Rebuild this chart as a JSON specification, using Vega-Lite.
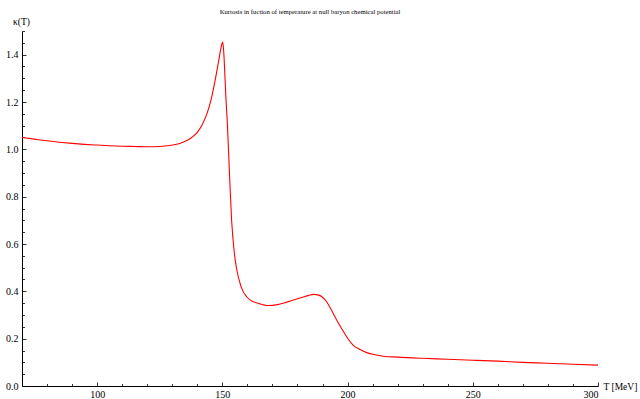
{
  "$schema": "https://vega.github.io/schema/vega-lite/v6.json",
  "autosize": "none",
  "width": 576,
  "height": 355,
  "padding": {"left": 22, "top": 31, "right": 42, "bottom": 13},
  "background": "white",
  "config": {
    "view": {"stroke": null},
    "font": "Liberation Serif"
  },
  "title": {
    "text": "Kurtosis in fuction of temperature at null baryon chemical potential",
    "font": "Liberation Serif",
    "fontSize": 6.7,
    "fontWeight": "normal",
    "color": "black",
    "anchor": "middle",
    "frame": "group",
    "baseline": "bottom",
    "offset": -6
  },
  "data": {
    "values": [
      {"T": 70, "k": 1.050},
      {"T": 75, "k": 1.043},
      {"T": 80, "k": 1.036},
      {"T": 85, "k": 1.030},
      {"T": 90, "k": 1.025},
      {"T": 95, "k": 1.021},
      {"T": 100, "k": 1.018},
      {"T": 105, "k": 1.015},
      {"T": 110, "k": 1.013},
      {"T": 115, "k": 1.012},
      {"T": 120, "k": 1.011},
      {"T": 125, "k": 1.012},
      {"T": 129, "k": 1.016},
      {"T": 133, "k": 1.025},
      {"T": 136, "k": 1.038},
      {"T": 138, "k": 1.052},
      {"T": 140, "k": 1.072},
      {"T": 142, "k": 1.105},
      {"T": 144, "k": 1.155},
      {"T": 145.5, "k": 1.210},
      {"T": 147, "k": 1.285},
      {"T": 148.3, "k": 1.360},
      {"T": 149.3, "k": 1.420},
      {"T": 150.1, "k": 1.453},
      {"T": 150.5, "k": 1.420},
      {"T": 150.8, "k": 1.364},
      {"T": 151.4, "k": 1.222},
      {"T": 152.0, "k": 1.110},
      {"T": 152.8, "k": 0.910},
      {"T": 153.7, "k": 0.700},
      {"T": 154.8, "k": 0.561},
      {"T": 155.8, "k": 0.489},
      {"T": 157.5, "k": 0.419},
      {"T": 159.8, "k": 0.376},
      {"T": 162, "k": 0.358},
      {"T": 164.4, "k": 0.349},
      {"T": 168.4, "k": 0.340},
      {"T": 172, "k": 0.344},
      {"T": 175, "k": 0.352},
      {"T": 178.4, "k": 0.363},
      {"T": 182, "k": 0.375},
      {"T": 184.5, "k": 0.383},
      {"T": 186.4, "k": 0.387},
      {"T": 188.5, "k": 0.384},
      {"T": 190, "k": 0.375},
      {"T": 191.7, "k": 0.355},
      {"T": 193.5, "k": 0.322},
      {"T": 195.7, "k": 0.278},
      {"T": 197.5, "k": 0.245},
      {"T": 199.7, "k": 0.207},
      {"T": 202.3, "k": 0.172},
      {"T": 205, "k": 0.154},
      {"T": 207.7, "k": 0.141},
      {"T": 211, "k": 0.132},
      {"T": 214.3, "k": 0.126},
      {"T": 220, "k": 0.122},
      {"T": 230, "k": 0.117},
      {"T": 240, "k": 0.113},
      {"T": 250, "k": 0.109},
      {"T": 260, "k": 0.105},
      {"T": 270, "k": 0.100},
      {"T": 280, "k": 0.096},
      {"T": 290, "k": 0.092},
      {"T": 300, "k": 0.088}
    ]
  },
  "mark": {"type": "line", "color": "#ff0000", "strokeWidth": 1.1, "interpolate": "monotone"},
  "encoding": {
    "x": {
      "field": "T",
      "type": "quantitative",
      "scale": {"domain": [70, 300], "nice": false, "zero": false},
      "axis": {
        "title": "T [MeV]",
        "titleFont": "Liberation Serif",
        "titleFontSize": 9.5,
        "titleFontWeight": "normal",
        "titleColor": "black",
        "titleAlign": "left",
        "titleBaseline": "middle",
        "titleX": 581,
        "titleY": 0,
        "values": [80, 90, 100, 110, 120, 130, 140, 150, 160, 170, 180, 190, 200, 210, 220, 230, 240, 250, 260, 270, 280, 290, 300],
        "labelExpr": "datum.value % 50 === 0 ? datum.label : ''",
        "labelFont": "Liberation Serif",
        "labelFontSize": 10,
        "labelColor": "black",
        "labelPadding": 7,
        "grid": false,
        "domainColor": "black",
        "domainWidth": 1,
        "tickColor": "black",
        "tickWidth": 0.8,
        "tickSize": {"condition": {"test": "datum.value % 50 === 0", "value": -4}, "value": -2.5}
      }
    },
    "y": {
      "field": "k",
      "type": "quantitative",
      "scale": {"domain": [0, 1.5], "nice": false},
      "axis": {
        "title": "κ(T)",
        "titleFont": "Liberation Serif",
        "titleFontSize": 9.5,
        "titleFontWeight": "normal",
        "titleColor": "black",
        "titleAngle": 0,
        "titleAlign": "center",
        "titleBaseline": "middle",
        "titleX": -1,
        "titleY": -10,
        "values": [0, 0.05, 0.1, 0.15, 0.2, 0.25, 0.3, 0.35, 0.4, 0.45, 0.5, 0.55, 0.6, 0.65, 0.7, 0.75, 0.8, 0.85, 0.9, 0.95, 1.0, 1.05, 1.1, 1.15, 1.2, 1.25, 1.3, 1.35, 1.4, 1.45, 1.5],
        "format": ".1f",
        "labelExpr": "abs(round(datum.value * 5) - datum.value * 5) < 1e-6 ? datum.label : ''",
        "labelFont": "Liberation Serif",
        "labelFontSize": 10,
        "labelColor": "black",
        "labelPadding": 8,
        "grid": false,
        "domainColor": "black",
        "domainWidth": 1,
        "tickColor": "black",
        "tickWidth": 0.8,
        "tickSize": {"condition": {"test": "abs(round(datum.value * 5) - datum.value * 5) < 1e-6", "value": -4}, "value": -2.5}
      }
    }
  }
}
